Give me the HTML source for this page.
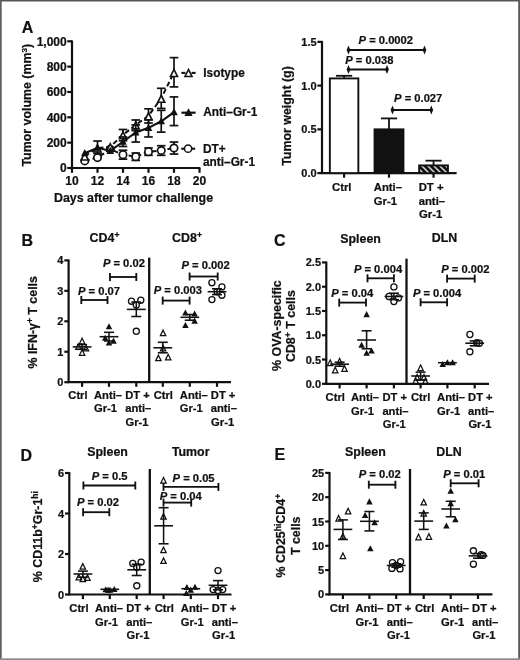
<!DOCTYPE html>
<html><head><meta charset="utf-8"><title>Figure</title>
<style>
html,body{margin:0;padding:0;background:#fff;}
body{width:520px;height:660px;overflow:hidden;}
svg{display:block;will-change:transform;transform:translateZ(0);}
svg text{font-family:"Liberation Sans",sans-serif;font-weight:bold;fill:#111;stroke:#111;stroke-width:0.22px;}
</style></head><body>
<svg width="520" height="660" viewBox="0 0 520 660">
<defs>
<pattern id="hatch" x="0.9" y="0" width="4.24" height="4.24" patternUnits="userSpaceOnUse" patternTransform="rotate(-45 420 166)">
<rect width="4.24" height="4.24" fill="#111"/><rect width="1.3" height="4.24" fill="#fff"/>
</pattern>
</defs>
<rect x="0" y="0" width="520" height="660" fill="#fff"/>
<g>

<rect x="0" y="0" width="520" height="1.5" fill="#555"/>
<rect x="0" y="0" width="1.7" height="660" fill="#5e5e5e"/>
<rect x="518.2" y="0" width="1.8" height="660" fill="#5a5a5a"/>
<rect x="0" y="658.3" width="520" height="1.7" fill="#8c8c8c"/>
<!-- Panel A: growth curves -->
<text x="21.80" y="32.60" font-size="16" text-anchor="start" >A</text>
<line x1="72.00" y1="40.40" x2="72.00" y2="168.90" stroke="#111" stroke-width="2.2" />
<line x1="71.10" y1="168.00" x2="200.40" y2="168.00" stroke="#111" stroke-width="2.2" />
<line x1="67.30" y1="168.00" x2="72.00" y2="168.00" stroke="#111" stroke-width="2.2" />
<text x="66.70" y="172.30" font-size="12" text-anchor="end" >0</text>
<line x1="67.30" y1="142.66" x2="72.00" y2="142.66" stroke="#111" stroke-width="2.2" />
<text x="66.70" y="146.96" font-size="12" text-anchor="end" >200</text>
<line x1="67.30" y1="117.32" x2="72.00" y2="117.32" stroke="#111" stroke-width="2.2" />
<text x="66.70" y="121.62" font-size="12" text-anchor="end" >400</text>
<line x1="67.30" y1="91.98" x2="72.00" y2="91.98" stroke="#111" stroke-width="2.2" />
<text x="66.70" y="96.28" font-size="12" text-anchor="end" >600</text>
<line x1="67.30" y1="66.64" x2="72.00" y2="66.64" stroke="#111" stroke-width="2.2" />
<text x="66.70" y="70.94" font-size="12" text-anchor="end" >800</text>
<line x1="67.30" y1="41.30" x2="72.00" y2="41.30" stroke="#111" stroke-width="2.2" />
<text x="66.70" y="45.60" font-size="12" text-anchor="end" >1,000</text>
<line x1="72.00" y1="168.00" x2="72.00" y2="172.80" stroke="#111" stroke-width="2.2" />
<text x="72.00" y="184.50" font-size="12" text-anchor="middle" >10</text>
<line x1="97.50" y1="168.00" x2="97.50" y2="172.80" stroke="#111" stroke-width="2.2" />
<text x="97.50" y="184.50" font-size="12" text-anchor="middle" >12</text>
<line x1="123.00" y1="168.00" x2="123.00" y2="172.80" stroke="#111" stroke-width="2.2" />
<text x="123.00" y="184.50" font-size="12" text-anchor="middle" >14</text>
<line x1="148.50" y1="168.00" x2="148.50" y2="172.80" stroke="#111" stroke-width="2.2" />
<text x="148.50" y="184.50" font-size="12" text-anchor="middle" >16</text>
<line x1="174.00" y1="168.00" x2="174.00" y2="172.80" stroke="#111" stroke-width="2.2" />
<text x="174.00" y="184.50" font-size="12" text-anchor="middle" >18</text>
<line x1="199.50" y1="168.00" x2="199.50" y2="172.80" stroke="#111" stroke-width="2.2" />
<text x="199.50" y="184.50" font-size="12" text-anchor="middle" >20</text>
<text transform="translate(26.80,105.20) rotate(-90)" font-size="12.4" text-anchor="middle" y="4.46">Tumor volume (mm<tspan font-size="8.1" dy="-4.3">3</tspan><tspan dy="4.3">&#8203;</tspan>)</text>
<text x="133.50" y="202.20" font-size="12.4" text-anchor="middle" >Days after tumor challenge</text>
<polyline points="84.75,160.90 97.50,157.61 110.25,149.25 123.00,154.70 135.75,156.72 148.50,151.66 161.25,150.52 174.00,147.98" fill="none" stroke="#111" stroke-width="2" stroke-dasharray="5 3"/>
<line x1="123.00" y1="159.13" x2="123.00" y2="150.26" stroke="#111" stroke-width="1.7" />
<line x1="118.70" y1="159.13" x2="127.30" y2="159.13" stroke="#111" stroke-width="1.7" />
<line x1="118.70" y1="150.26" x2="127.30" y2="150.26" stroke="#111" stroke-width="1.7" />
<line x1="135.75" y1="160.40" x2="135.75" y2="153.05" stroke="#111" stroke-width="1.7" />
<line x1="131.45" y1="160.40" x2="140.05" y2="160.40" stroke="#111" stroke-width="1.7" />
<line x1="131.45" y1="153.05" x2="140.05" y2="153.05" stroke="#111" stroke-width="1.7" />
<line x1="148.50" y1="155.33" x2="148.50" y2="147.98" stroke="#111" stroke-width="1.7" />
<line x1="144.20" y1="155.33" x2="152.80" y2="155.33" stroke="#111" stroke-width="1.7" />
<line x1="144.20" y1="147.98" x2="152.80" y2="147.98" stroke="#111" stroke-width="1.7" />
<line x1="161.25" y1="155.33" x2="161.25" y2="145.70" stroke="#111" stroke-width="1.7" />
<line x1="156.95" y1="155.33" x2="165.55" y2="155.33" stroke="#111" stroke-width="1.7" />
<line x1="156.95" y1="145.70" x2="165.55" y2="145.70" stroke="#111" stroke-width="1.7" />
<line x1="174.00" y1="154.06" x2="174.00" y2="142.03" stroke="#111" stroke-width="1.7" />
<line x1="169.70" y1="154.06" x2="178.30" y2="154.06" stroke="#111" stroke-width="1.7" />
<line x1="169.70" y1="142.03" x2="178.30" y2="142.03" stroke="#111" stroke-width="1.7" />
<circle cx="84.75" cy="160.90" r="3.7" fill="#fff" stroke="#111" stroke-width="1.7"/>
<circle cx="97.50" cy="157.61" r="3.7" fill="#fff" stroke="#111" stroke-width="1.7"/>
<circle cx="110.25" cy="149.25" r="3.7" fill="#fff" stroke="#111" stroke-width="1.7"/>
<circle cx="123.00" cy="154.70" r="3.7" fill="#fff" stroke="#111" stroke-width="1.7"/>
<circle cx="135.75" cy="156.72" r="3.7" fill="#fff" stroke="#111" stroke-width="1.7"/>
<circle cx="148.50" cy="151.66" r="3.7" fill="#fff" stroke="#111" stroke-width="1.7"/>
<circle cx="161.25" cy="150.52" r="3.7" fill="#fff" stroke="#111" stroke-width="1.7"/>
<circle cx="174.00" cy="147.98" r="3.7" fill="#fff" stroke="#111" stroke-width="1.7"/>
<polyline points="84.75,155.96 97.50,147.98 110.25,146.71 123.00,134.80 135.75,124.92 148.50,115.80 161.25,98.31 174.00,72.47" fill="none" stroke="#111" stroke-width="2" stroke-dasharray="5 3"/>
<line x1="123.00" y1="140.76" x2="123.00" y2="129.48" stroke="#111" stroke-width="1.7" />
<line x1="118.70" y1="140.76" x2="127.30" y2="140.76" stroke="#111" stroke-width="1.7" />
<line x1="118.70" y1="129.48" x2="127.30" y2="129.48" stroke="#111" stroke-width="1.7" />
<line x1="135.75" y1="130.62" x2="135.75" y2="119.98" stroke="#111" stroke-width="1.7" />
<line x1="131.45" y1="130.62" x2="140.05" y2="130.62" stroke="#111" stroke-width="1.7" />
<line x1="131.45" y1="119.98" x2="140.05" y2="119.98" stroke="#111" stroke-width="1.7" />
<line x1="148.50" y1="123.02" x2="148.50" y2="108.83" stroke="#111" stroke-width="1.7" />
<line x1="144.20" y1="123.02" x2="152.80" y2="123.02" stroke="#111" stroke-width="1.7" />
<line x1="144.20" y1="108.83" x2="152.80" y2="108.83" stroke="#111" stroke-width="1.7" />
<line x1="161.25" y1="108.45" x2="161.25" y2="88.31" stroke="#111" stroke-width="1.7" />
<line x1="156.95" y1="108.45" x2="165.55" y2="108.45" stroke="#111" stroke-width="1.7" />
<line x1="156.95" y1="88.31" x2="165.55" y2="88.31" stroke="#111" stroke-width="1.7" />
<line x1="174.00" y1="86.91" x2="174.00" y2="57.64" stroke="#111" stroke-width="1.7" />
<line x1="169.70" y1="86.91" x2="178.30" y2="86.91" stroke="#111" stroke-width="1.7" />
<line x1="169.70" y1="57.64" x2="178.30" y2="57.64" stroke="#111" stroke-width="1.7" />
<path d="M84.75 152.95L81.24 159.96L88.26 159.96Z" fill="#fff" stroke="#111" stroke-width="1.6" stroke-linejoin="miter"/>
<path d="M97.50 144.97L93.99 151.98L101.01 151.98Z" fill="#fff" stroke="#111" stroke-width="1.6" stroke-linejoin="miter"/>
<path d="M110.25 143.70L106.74 150.71L113.76 150.71Z" fill="#fff" stroke="#111" stroke-width="1.6" stroke-linejoin="miter"/>
<path d="M123.00 131.79L119.49 138.80L126.51 138.80Z" fill="#fff" stroke="#111" stroke-width="1.6" stroke-linejoin="miter"/>
<path d="M135.75 121.91L132.24 128.92L139.26 128.92Z" fill="#fff" stroke="#111" stroke-width="1.6" stroke-linejoin="miter"/>
<path d="M148.50 112.79L144.99 119.80L152.01 119.80Z" fill="#fff" stroke="#111" stroke-width="1.6" stroke-linejoin="miter"/>
<path d="M161.25 95.30L157.74 102.31L164.76 102.31Z" fill="#fff" stroke="#111" stroke-width="1.6" stroke-linejoin="miter"/>
<path d="M174.00 69.46L170.49 76.47L177.51 76.47Z" fill="#fff" stroke="#111" stroke-width="1.6" stroke-linejoin="miter"/>
<polyline points="84.75,153.18 97.50,147.73 110.25,150.90 123.00,141.77 135.75,132.52 148.50,127.84 161.25,121.25 174.00,112.13" fill="none" stroke="#111" stroke-width="2.1"/>
<line x1="97.50" y1="153.43" x2="97.50" y2="141.01" stroke="#111" stroke-width="1.7" />
<line x1="93.20" y1="153.43" x2="101.80" y2="153.43" stroke="#111" stroke-width="1.7" />
<line x1="93.20" y1="141.01" x2="101.80" y2="141.01" stroke="#111" stroke-width="1.7" />
<line x1="123.00" y1="146.46" x2="123.00" y2="136.96" stroke="#111" stroke-width="1.7" />
<line x1="118.70" y1="146.46" x2="127.30" y2="146.46" stroke="#111" stroke-width="1.7" />
<line x1="118.70" y1="136.96" x2="127.30" y2="136.96" stroke="#111" stroke-width="1.7" />
<line x1="135.75" y1="142.03" x2="135.75" y2="124.92" stroke="#111" stroke-width="1.7" />
<line x1="131.45" y1="142.03" x2="140.05" y2="142.03" stroke="#111" stroke-width="1.7" />
<line x1="131.45" y1="124.92" x2="140.05" y2="124.92" stroke="#111" stroke-width="1.7" />
<line x1="148.50" y1="136.96" x2="148.50" y2="119.85" stroke="#111" stroke-width="1.7" />
<line x1="144.20" y1="136.96" x2="152.80" y2="136.96" stroke="#111" stroke-width="1.7" />
<line x1="144.20" y1="119.85" x2="152.80" y2="119.85" stroke="#111" stroke-width="1.7" />
<line x1="161.25" y1="132.14" x2="161.25" y2="110.35" stroke="#111" stroke-width="1.7" />
<line x1="156.95" y1="132.14" x2="165.55" y2="132.14" stroke="#111" stroke-width="1.7" />
<line x1="156.95" y1="110.35" x2="165.55" y2="110.35" stroke="#111" stroke-width="1.7" />
<line x1="174.00" y1="125.56" x2="174.00" y2="96.92" stroke="#111" stroke-width="1.7" />
<line x1="169.70" y1="125.56" x2="178.30" y2="125.56" stroke="#111" stroke-width="1.7" />
<line x1="169.70" y1="96.92" x2="178.30" y2="96.92" stroke="#111" stroke-width="1.7" />
<path d="M84.75 149.08L80.95 156.28L88.55 156.28Z" fill="#111"/>
<path d="M97.50 143.63L93.70 150.83L101.30 150.83Z" fill="#111"/>
<path d="M110.25 146.80L106.45 154.00L114.05 154.00Z" fill="#111"/>
<path d="M123.00 137.67L119.20 144.87L126.80 144.87Z" fill="#111"/>
<path d="M135.75 128.42L131.95 135.62L139.55 135.62Z" fill="#111"/>
<path d="M148.50 123.74L144.70 130.94L152.30 130.94Z" fill="#111"/>
<path d="M161.25 117.15L157.45 124.35L165.05 124.35Z" fill="#111"/>
<path d="M174.00 108.03L170.20 115.23L177.80 115.23Z" fill="#111"/>
<line x1="181.40" y1="72.90" x2="185.40" y2="72.90" stroke="#111" stroke-width="2.1" />
<line x1="191.60" y1="72.90" x2="195.60" y2="72.90" stroke="#111" stroke-width="2.1" />
<path d="M188.50 69.49L184.99 76.50L192.01 76.50Z" fill="#fff" stroke="#111" stroke-width="1.6" stroke-linejoin="miter"/>
<text x="203.30" y="76.80" font-size="11.85" text-anchor="start" >Isotype</text>
<line x1="181.40" y1="112.70" x2="195.60" y2="112.70" stroke="#111" stroke-width="2.2" />
<path d="M188.50 108.30L184.40 115.90L192.60 115.90Z" fill="#111"/>
<text x="203.30" y="116.00" font-size="11.85" text-anchor="start" >Anti&#8211;Gr-1</text>
<line x1="181.20" y1="148.70" x2="185.00" y2="148.70" stroke="#111" stroke-width="2.1" />
<line x1="191.20" y1="148.70" x2="195.20" y2="148.70" stroke="#111" stroke-width="2.1" />
<circle cx="188.10" cy="148.70" r="3.6" fill="#fff" stroke="#111" stroke-width="1.5"/>
<text x="203.00" y="152.60" font-size="11.85" text-anchor="start" >DT+</text>
<text x="203.00" y="166.20" font-size="11.85" text-anchor="start" >anti&#8211;Gr-1</text>
<!-- Panel A: tumour weight bars -->
<line x1="322.00" y1="40.95" x2="322.00" y2="174.00" stroke="#111" stroke-width="2.2" />
<line x1="320.90" y1="173.10" x2="456.60" y2="173.10" stroke="#111" stroke-width="2.2" />
<line x1="317.40" y1="173.10" x2="322.00" y2="173.10" stroke="#111" stroke-width="2.2" />
<text x="316.60" y="177.10" font-size="11" text-anchor="end" >0.0</text>
<line x1="317.40" y1="129.35" x2="322.00" y2="129.35" stroke="#111" stroke-width="2.2" />
<text x="316.60" y="133.35" font-size="11" text-anchor="end" >0.5</text>
<line x1="317.40" y1="85.60" x2="322.00" y2="85.60" stroke="#111" stroke-width="2.2" />
<text x="316.60" y="89.60" font-size="11" text-anchor="end" >1.0</text>
<line x1="317.40" y1="41.85" x2="322.00" y2="41.85" stroke="#111" stroke-width="2.2" />
<text x="316.60" y="45.85" font-size="11" text-anchor="end" >1.5</text>
<text transform="translate(287.00,116.00) rotate(-90)" font-size="12.4" text-anchor="middle" y="4.46">Tumor weight (g)</text>
<line x1="344.10" y1="78.42" x2="344.10" y2="75.80" stroke="#111" stroke-width="1.8" />
<line x1="336.00" y1="75.80" x2="352.20" y2="75.80" stroke="#111" stroke-width="1.8" />
<rect x="329.85" y="78.42" width="28.50" height="94.68" fill="#fff" stroke="#111" stroke-width="1.9"/>
<line x1="344.10" y1="173.10" x2="344.10" y2="177.70" stroke="#111" stroke-width="2.2" />
<line x1="389.00" y1="129.35" x2="389.00" y2="118.41" stroke="#111" stroke-width="1.8" />
<line x1="380.90" y1="118.41" x2="397.10" y2="118.41" stroke="#111" stroke-width="1.8" />
<rect x="374.55" y="129.35" width="28.90" height="43.75" fill="#111" stroke="#111" stroke-width="1.9"/>
<line x1="389.00" y1="173.10" x2="389.00" y2="177.70" stroke="#111" stroke-width="2.2" />
<line x1="433.55" y1="165.40" x2="433.55" y2="160.67" stroke="#111" stroke-width="1.8" />
<line x1="425.45" y1="160.67" x2="441.65" y2="160.67" stroke="#111" stroke-width="1.8" />
<rect x="419.15" y="165.40" width="28.80" height="7.70" fill="url(#hatch)" stroke="#111" stroke-width="1.9"/>
<line x1="433.55" y1="173.10" x2="433.55" y2="177.70" stroke="#111" stroke-width="2.2" />
<text x="332.00" y="191.00" font-size="11.3" text-anchor="start" >Ctrl</text>
<text x="373.80" y="191.00" font-size="11.3" text-anchor="start" >Anti&#8211;</text>
<text x="373.80" y="204.60" font-size="11.3" text-anchor="start" >Gr-1</text>
<text x="418.70" y="191.00" font-size="11.3" text-anchor="start" >DT +</text>
<text x="418.70" y="204.60" font-size="11.3" text-anchor="start" >anti&#8211;</text>
<text x="419.00" y="218.20" font-size="11.3" text-anchor="start" >Gr-1</text>
<text x="358.60" y="43.80" font-size="11.2" text-anchor="start" ><tspan font-style="italic">P</tspan> = 0.0002</text>
<line x1="348.50" y1="50.00" x2="424.50" y2="50.00" stroke="#111" stroke-width="1.9" />
<path d="M348.50 45.60L350.35 50.00L348.50 54.40L346.65 50.00Z" fill="#111"/>
<path d="M424.50 45.60L426.35 50.00L424.50 54.40L422.65 50.00Z" fill="#111"/>
<text x="345.30" y="63.50" font-size="11.2" text-anchor="start" ><tspan font-style="italic">P</tspan> = 0.038</text>
<line x1="348.50" y1="69.50" x2="387.00" y2="69.50" stroke="#111" stroke-width="1.9" />
<path d="M348.50 65.10L350.35 69.50L348.50 73.90L346.65 69.50Z" fill="#111"/>
<path d="M387.00 65.10L388.85 69.50L387.00 73.90L385.15 69.50Z" fill="#111"/>
<text x="394.10" y="102.20" font-size="11.2" text-anchor="start" ><tspan font-style="italic">P</tspan> = 0.027</text>
<line x1="392.50" y1="110.00" x2="431.30" y2="110.00" stroke="#111" stroke-width="1.9" />
<path d="M392.50 105.60L394.35 110.00L392.50 114.40L390.65 110.00Z" fill="#111"/>
<path d="M431.30 105.60L433.15 110.00L431.30 114.40L429.45 110.00Z" fill="#111"/>
<!-- Panel B -->
<text transform="translate(32.70,322.30) rotate(-90)" font-size="12.4" text-anchor="middle" y="4.46">% IFN-&#947;<tspan font-size="8.6" dy="-4.3">+</tspan><tspan dy="4.3">&#8203;</tspan> T cells</text>
<text x="21.50" y="246.00" font-size="16" text-anchor="start" >B</text>
<line x1="68.60" y1="259.50" x2="68.60" y2="383.10" stroke="#111" stroke-width="2.2" />
<line x1="67.70" y1="382.20" x2="231.00" y2="382.20" stroke="#111" stroke-width="2.2" />
<line x1="149.20" y1="257.60" x2="149.20" y2="382.20" stroke="#111" stroke-width="2.3" />
<line x1="64.30" y1="382.20" x2="68.60" y2="382.20" stroke="#111" stroke-width="2.2" />
<text x="63.30" y="386.20" font-size="11" text-anchor="end" >0</text>
<line x1="64.30" y1="351.75" x2="68.60" y2="351.75" stroke="#111" stroke-width="2.2" />
<text x="63.30" y="355.75" font-size="11" text-anchor="end" >1</text>
<line x1="64.30" y1="321.30" x2="68.60" y2="321.30" stroke="#111" stroke-width="2.2" />
<text x="63.30" y="325.30" font-size="11" text-anchor="end" >2</text>
<line x1="64.30" y1="290.85" x2="68.60" y2="290.85" stroke="#111" stroke-width="2.2" />
<text x="63.30" y="294.85" font-size="11" text-anchor="end" >3</text>
<line x1="64.30" y1="260.40" x2="68.60" y2="260.40" stroke="#111" stroke-width="2.2" />
<text x="63.30" y="264.40" font-size="11" text-anchor="end" >4</text>
<text x="104.50" y="241.80" font-size="12.4" text-anchor="middle" >CD4<tspan font-size="8.6" dy="-4.3">+</tspan><tspan dy="4.3">&#8203;</tspan></text>
<text x="187.00" y="241.80" font-size="12.4" text-anchor="middle" >CD8<tspan font-size="8.6" dy="-4.3">+</tspan><tspan dy="4.3">&#8203;</tspan></text>
<line x1="82.10" y1="382.20" x2="82.10" y2="386.80" stroke="#111" stroke-width="2.2" />
<line x1="72.70" y1="346.90" x2="91.50" y2="346.90" stroke="#111" stroke-width="1.55" />
<line x1="82.10" y1="344.60" x2="82.10" y2="349.30" stroke="#111" stroke-width="1.55" />
<line x1="77.10" y1="344.60" x2="87.10" y2="344.60" stroke="#111" stroke-width="1.55" />
<line x1="77.10" y1="349.30" x2="87.10" y2="349.30" stroke="#111" stroke-width="1.55" />
<path d="M82.10 338.23L79.40 343.78L84.80 343.78Z" fill="none" stroke="#111" stroke-width="1.25" stroke-linejoin="miter"/>
<path d="M78.30 343.93L75.60 349.48L81.00 349.48Z" fill="none" stroke="#111" stroke-width="1.25" stroke-linejoin="miter"/>
<path d="M86.00 345.33L83.30 350.88L88.70 350.88Z" fill="none" stroke="#111" stroke-width="1.25" stroke-linejoin="miter"/>
<path d="M82.10 349.73L79.40 355.28L84.80 355.28Z" fill="none" stroke="#111" stroke-width="1.25" stroke-linejoin="miter"/>
<line x1="109.00" y1="382.20" x2="109.00" y2="386.80" stroke="#111" stroke-width="2.2" />
<line x1="99.60" y1="336.70" x2="118.40" y2="336.70" stroke="#111" stroke-width="1.55" />
<line x1="109.00" y1="332.30" x2="109.00" y2="341.00" stroke="#111" stroke-width="1.55" />
<line x1="104.00" y1="332.30" x2="114.00" y2="332.30" stroke="#111" stroke-width="1.55" />
<line x1="104.00" y1="341.00" x2="114.00" y2="341.00" stroke="#111" stroke-width="1.55" />
<path d="M109.00 323.15L105.75 329.25L112.25 329.25Z" fill="#111"/>
<path d="M105.20 334.65L101.95 340.75L108.45 340.75Z" fill="#111"/>
<path d="M113.50 337.55L110.25 343.65L116.75 343.65Z" fill="#111"/>
<path d="M109.00 339.45L105.75 345.55L112.25 345.55Z" fill="#111"/>
<line x1="136.30" y1="382.20" x2="136.30" y2="386.80" stroke="#111" stroke-width="2.2" />
<line x1="126.90" y1="309.40" x2="145.70" y2="309.40" stroke="#111" stroke-width="1.55" />
<line x1="136.30" y1="302.10" x2="136.30" y2="316.50" stroke="#111" stroke-width="1.55" />
<line x1="131.30" y1="302.10" x2="141.30" y2="302.10" stroke="#111" stroke-width="1.55" />
<line x1="131.30" y1="316.50" x2="141.30" y2="316.50" stroke="#111" stroke-width="1.55" />
<circle cx="131.50" cy="301.20" r="3.05" fill="none" stroke="#111" stroke-width="1.3"/>
<circle cx="140.80" cy="300.20" r="3.05" fill="none" stroke="#111" stroke-width="1.3"/>
<circle cx="136.30" cy="305.00" r="3.05" fill="none" stroke="#111" stroke-width="1.3"/>
<circle cx="136.30" cy="331.30" r="3.05" fill="none" stroke="#111" stroke-width="1.3"/>
<line x1="162.80" y1="382.20" x2="162.80" y2="386.80" stroke="#111" stroke-width="2.2" />
<line x1="153.40" y1="347.80" x2="172.20" y2="347.80" stroke="#111" stroke-width="1.55" />
<line x1="162.80" y1="342.30" x2="162.80" y2="352.80" stroke="#111" stroke-width="1.55" />
<line x1="157.80" y1="342.30" x2="167.80" y2="342.30" stroke="#111" stroke-width="1.55" />
<line x1="157.80" y1="352.80" x2="167.80" y2="352.80" stroke="#111" stroke-width="1.55" />
<path d="M163.10 330.13L160.40 335.68L165.80 335.68Z" fill="none" stroke="#111" stroke-width="1.25" stroke-linejoin="miter"/>
<path d="M163.10 345.43L160.40 350.98L165.80 350.98Z" fill="none" stroke="#111" stroke-width="1.25" stroke-linejoin="miter"/>
<path d="M158.40 355.13L155.70 360.68L161.10 360.68Z" fill="none" stroke="#111" stroke-width="1.25" stroke-linejoin="miter"/>
<path d="M168.20 354.33L165.50 359.88L170.90 359.88Z" fill="none" stroke="#111" stroke-width="1.25" stroke-linejoin="miter"/>
<line x1="189.80" y1="382.20" x2="189.80" y2="386.80" stroke="#111" stroke-width="2.2" />
<line x1="180.40" y1="317.30" x2="199.20" y2="317.30" stroke="#111" stroke-width="1.55" />
<line x1="189.80" y1="314.50" x2="189.80" y2="320.20" stroke="#111" stroke-width="1.55" />
<line x1="184.80" y1="314.50" x2="194.80" y2="314.50" stroke="#111" stroke-width="1.55" />
<line x1="184.80" y1="320.20" x2="194.80" y2="320.20" stroke="#111" stroke-width="1.55" />
<path d="M185.40 309.45L182.15 315.55L188.65 315.55Z" fill="#111"/>
<path d="M194.60 310.45L191.35 316.55L197.85 316.55Z" fill="#111"/>
<path d="M194.60 317.55L191.35 323.65L197.85 323.65Z" fill="#111"/>
<path d="M185.40 321.95L182.15 328.05L188.65 328.05Z" fill="#111"/>
<line x1="217.00" y1="382.20" x2="217.00" y2="386.80" stroke="#111" stroke-width="2.2" />
<line x1="207.60" y1="291.70" x2="226.40" y2="291.70" stroke="#111" stroke-width="1.55" />
<line x1="217.00" y1="288.80" x2="217.00" y2="294.60" stroke="#111" stroke-width="1.55" />
<line x1="212.00" y1="288.80" x2="222.00" y2="288.80" stroke="#111" stroke-width="1.55" />
<line x1="212.00" y1="294.60" x2="222.00" y2="294.60" stroke="#111" stroke-width="1.55" />
<circle cx="211.90" cy="282.70" r="3.05" fill="none" stroke="#111" stroke-width="1.3"/>
<circle cx="221.90" cy="286.90" r="3.05" fill="none" stroke="#111" stroke-width="1.3"/>
<circle cx="217.10" cy="291.70" r="3.05" fill="none" stroke="#111" stroke-width="1.3"/>
<circle cx="221.90" cy="295.20" r="3.05" fill="none" stroke="#111" stroke-width="1.3"/>
<circle cx="211.90" cy="299.60" r="3.05" fill="none" stroke="#111" stroke-width="1.3"/>
<text x="102.90" y="267.00" font-size="11.2" text-anchor="start" ><tspan font-style="italic">P</tspan> = 0.02</text>
<line x1="110.00" y1="277.00" x2="136.30" y2="277.00" stroke="#111" stroke-width="1.85" />
<line x1="110.00" y1="273.00" x2="110.00" y2="281.00" stroke="#111" stroke-width="1.85" />
<line x1="136.30" y1="273.00" x2="136.30" y2="281.00" stroke="#111" stroke-width="1.85" />
<text x="78.00" y="295.20" font-size="11.2" text-anchor="start" ><tspan font-style="italic">P</tspan> = 0.07</text>
<line x1="81.30" y1="300.00" x2="107.50" y2="300.00" stroke="#111" stroke-width="1.85" />
<line x1="81.30" y1="296.00" x2="81.30" y2="304.00" stroke="#111" stroke-width="1.85" />
<line x1="107.50" y1="296.00" x2="107.50" y2="304.00" stroke="#111" stroke-width="1.85" />
<text x="181.50" y="269.00" font-size="11.2" text-anchor="start" ><tspan font-style="italic">P</tspan> = 0.002</text>
<line x1="189.60" y1="276.50" x2="217.70" y2="276.50" stroke="#111" stroke-width="1.85" />
<line x1="189.60" y1="272.50" x2="189.60" y2="280.50" stroke="#111" stroke-width="1.85" />
<line x1="217.70" y1="272.50" x2="217.70" y2="280.50" stroke="#111" stroke-width="1.85" />
<text x="153.70" y="294.40" font-size="11.2" text-anchor="start" ><tspan font-style="italic">P</tspan> = 0.003</text>
<line x1="162.70" y1="300.60" x2="189.60" y2="300.60" stroke="#111" stroke-width="1.85" />
<line x1="162.70" y1="296.60" x2="162.70" y2="304.60" stroke="#111" stroke-width="1.85" />
<line x1="189.60" y1="296.60" x2="189.60" y2="304.60" stroke="#111" stroke-width="1.85" />
<text x="68.30" y="398.80" font-size="11.2" text-anchor="start" >Ctrl</text>
<text x="94.00" y="398.80" font-size="11.2" text-anchor="start" >Anti&#8211;</text>
<text x="94.00" y="412.45" font-size="11.2" text-anchor="start" >Gr-1</text>
<text x="125.20" y="398.80" font-size="11.2" text-anchor="start" >DT +</text>
<text x="125.20" y="412.45" font-size="11.2" text-anchor="start" >anti&#8211;</text>
<text x="125.50" y="426.10" font-size="11.2" text-anchor="start" >Gr-1</text>
<text x="153.70" y="398.80" font-size="11.2" text-anchor="start" >Ctrl</text>
<text x="179.80" y="398.80" font-size="11.2" text-anchor="start" >Anti&#8211;</text>
<text x="179.80" y="412.45" font-size="11.2" text-anchor="start" >Gr-1</text>
<text x="210.80" y="398.80" font-size="11.2" text-anchor="start" >DT +</text>
<text x="210.80" y="412.45" font-size="11.2" text-anchor="start" >anti&#8211;</text>
<text x="211.10" y="426.10" font-size="11.2" text-anchor="start" >Gr-1</text>
<!-- Panel C -->
<text transform="translate(276.40,325.60) rotate(-90)" font-size="12.4" text-anchor="middle" y="4.46">% OVA-specific</text>
<text transform="translate(290.50,326.10) rotate(-90)" font-size="12.4" text-anchor="middle" y="4.46">CD8<tspan font-size="8.6" dy="-4.3">+</tspan><tspan dy="4.3">&#8203;</tspan> T cells</text>
<text x="274.00" y="246.20" font-size="16" text-anchor="start" >C</text>
<line x1="326.30" y1="261.53" x2="326.30" y2="384.70" stroke="#111" stroke-width="2.2" />
<line x1="325.40" y1="383.80" x2="489.00" y2="383.80" stroke="#111" stroke-width="2.2" />
<line x1="406.50" y1="258.60" x2="406.50" y2="383.80" stroke="#111" stroke-width="2.3" />
<line x1="322.00" y1="383.80" x2="326.30" y2="383.80" stroke="#111" stroke-width="2.2" />
<text x="321.00" y="387.80" font-size="11" text-anchor="end" >0.0</text>
<line x1="322.00" y1="359.53" x2="326.30" y2="359.53" stroke="#111" stroke-width="2.2" />
<text x="321.00" y="363.53" font-size="11" text-anchor="end" >0.5</text>
<line x1="322.00" y1="335.25" x2="326.30" y2="335.25" stroke="#111" stroke-width="2.2" />
<text x="321.00" y="339.25" font-size="11" text-anchor="end" >1.0</text>
<line x1="322.00" y1="310.98" x2="326.30" y2="310.98" stroke="#111" stroke-width="2.2" />
<text x="321.00" y="314.98" font-size="11" text-anchor="end" >1.5</text>
<line x1="322.00" y1="286.70" x2="326.30" y2="286.70" stroke="#111" stroke-width="2.2" />
<text x="321.00" y="290.70" font-size="11" text-anchor="end" >2.0</text>
<line x1="322.00" y1="262.43" x2="326.30" y2="262.43" stroke="#111" stroke-width="2.2" />
<text x="321.00" y="266.43" font-size="11" text-anchor="end" >2.5</text>
<text x="360.60" y="243.00" font-size="12.4" text-anchor="middle" >Spleen</text>
<text x="444.50" y="241.80" font-size="12.4" text-anchor="middle" >DLN</text>
<line x1="339.60" y1="383.80" x2="339.60" y2="388.40" stroke="#111" stroke-width="2.2" />
<line x1="330.20" y1="364.20" x2="349.00" y2="364.20" stroke="#111" stroke-width="1.55" />
<line x1="339.60" y1="362.20" x2="339.60" y2="366.20" stroke="#111" stroke-width="1.55" />
<line x1="334.60" y1="362.20" x2="344.60" y2="362.20" stroke="#111" stroke-width="1.55" />
<line x1="334.60" y1="366.20" x2="344.60" y2="366.20" stroke="#111" stroke-width="1.55" />
<path d="M330.20 360.03L327.50 365.57L332.90 365.57Z" fill="none" stroke="#111" stroke-width="1.25" stroke-linejoin="miter"/>
<path d="M339.60 358.53L336.90 364.07L342.30 364.07Z" fill="none" stroke="#111" stroke-width="1.25" stroke-linejoin="miter"/>
<path d="M335.20 367.23L332.50 372.78L337.90 372.78Z" fill="none" stroke="#111" stroke-width="1.25" stroke-linejoin="miter"/>
<path d="M344.50 365.73L341.80 371.28L347.20 371.28Z" fill="none" stroke="#111" stroke-width="1.25" stroke-linejoin="miter"/>
<line x1="366.60" y1="383.80" x2="366.60" y2="388.40" stroke="#111" stroke-width="2.2" />
<line x1="357.20" y1="340.00" x2="376.00" y2="340.00" stroke="#111" stroke-width="1.55" />
<line x1="366.60" y1="330.80" x2="366.60" y2="348.80" stroke="#111" stroke-width="1.55" />
<line x1="361.60" y1="330.80" x2="371.60" y2="330.80" stroke="#111" stroke-width="1.55" />
<line x1="361.60" y1="348.80" x2="371.60" y2="348.80" stroke="#111" stroke-width="1.55" />
<path d="M366.60 311.05L363.35 317.15L369.85 317.15Z" fill="#111"/>
<path d="M361.60 341.75L358.35 347.85L364.85 347.85Z" fill="#111"/>
<path d="M371.50 347.45L368.25 353.55L374.75 353.55Z" fill="#111"/>
<path d="M366.60 349.65L363.35 355.75L369.85 355.75Z" fill="#111"/>
<line x1="393.90" y1="383.80" x2="393.90" y2="388.40" stroke="#111" stroke-width="2.2" />
<line x1="384.50" y1="296.50" x2="403.30" y2="296.50" stroke="#111" stroke-width="1.55" />
<line x1="393.90" y1="293.20" x2="393.90" y2="299.60" stroke="#111" stroke-width="1.55" />
<line x1="388.90" y1="293.20" x2="398.90" y2="293.20" stroke="#111" stroke-width="1.55" />
<line x1="388.90" y1="299.60" x2="398.90" y2="299.60" stroke="#111" stroke-width="1.55" />
<circle cx="393.90" cy="286.90" r="3.05" fill="none" stroke="#111" stroke-width="1.3"/>
<circle cx="389.00" cy="296.50" r="3.05" fill="none" stroke="#111" stroke-width="1.3"/>
<circle cx="398.50" cy="297.90" r="3.05" fill="none" stroke="#111" stroke-width="1.3"/>
<circle cx="393.90" cy="301.60" r="3.05" fill="none" stroke="#111" stroke-width="1.3"/>
<line x1="420.60" y1="383.80" x2="420.60" y2="388.40" stroke="#111" stroke-width="2.2" />
<line x1="411.20" y1="376.00" x2="430.00" y2="376.00" stroke="#111" stroke-width="1.55" />
<line x1="420.60" y1="372.10" x2="420.60" y2="380.00" stroke="#111" stroke-width="1.55" />
<line x1="415.60" y1="372.10" x2="425.60" y2="372.10" stroke="#111" stroke-width="1.55" />
<line x1="415.60" y1="380.00" x2="425.60" y2="380.00" stroke="#111" stroke-width="1.55" />
<path d="M420.60 365.03L417.90 370.57L423.30 370.57Z" fill="none" stroke="#111" stroke-width="1.25" stroke-linejoin="miter"/>
<path d="M417.10 374.53L414.40 380.07L419.80 380.07Z" fill="none" stroke="#111" stroke-width="1.25" stroke-linejoin="miter"/>
<path d="M424.00 374.53L421.30 380.07L426.70 380.07Z" fill="none" stroke="#111" stroke-width="1.25" stroke-linejoin="miter"/>
<path d="M415.70 378.03L413.00 383.57L418.40 383.57Z" fill="none" stroke="#111" stroke-width="1.25" stroke-linejoin="miter"/>
<path d="M425.40 378.33L422.70 383.88L428.10 383.88Z" fill="none" stroke="#111" stroke-width="1.25" stroke-linejoin="miter"/>
<line x1="447.40" y1="383.80" x2="447.40" y2="388.40" stroke="#111" stroke-width="2.2" />
<line x1="438.00" y1="362.70" x2="456.80" y2="362.70" stroke="#111" stroke-width="1.55" />
<path d="M442.70 360.95L439.45 367.05L445.95 367.05Z" fill="#111"/>
<path d="M447.40 359.15L444.15 365.25L450.65 365.25Z" fill="#111"/>
<path d="M452.60 359.15L449.35 365.25L455.85 365.25Z" fill="#111"/>
<line x1="474.70" y1="383.80" x2="474.70" y2="388.40" stroke="#111" stroke-width="2.2" />
<line x1="465.30" y1="343.20" x2="484.10" y2="343.20" stroke="#111" stroke-width="1.55" />
<line x1="474.70" y1="340.90" x2="474.70" y2="345.80" stroke="#111" stroke-width="1.55" />
<line x1="469.70" y1="340.90" x2="479.70" y2="340.90" stroke="#111" stroke-width="1.55" />
<line x1="469.70" y1="345.80" x2="479.70" y2="345.80" stroke="#111" stroke-width="1.55" />
<circle cx="469.90" cy="334.50" r="3.05" fill="none" stroke="#111" stroke-width="1.3"/>
<circle cx="469.90" cy="351.80" r="3.05" fill="none" stroke="#111" stroke-width="1.3"/>
<circle cx="476.80" cy="342.80" r="3.05" fill="none" stroke="#111" stroke-width="1.3"/>
<circle cx="479.40" cy="343.20" r="3.05" fill="none" stroke="#111" stroke-width="1.3"/>
<text x="353.90" y="273.30" font-size="11.2" text-anchor="start" ><tspan font-style="italic">P</tspan> = 0.004</text>
<line x1="367.50" y1="278.30" x2="393.90" y2="278.30" stroke="#111" stroke-width="1.85" />
<line x1="367.50" y1="274.30" x2="367.50" y2="282.30" stroke="#111" stroke-width="1.85" />
<line x1="393.90" y1="274.30" x2="393.90" y2="282.30" stroke="#111" stroke-width="1.85" />
<text x="331.30" y="296.80" font-size="11.2" text-anchor="start" ><tspan font-style="italic">P</tspan> = 0.04</text>
<line x1="339.20" y1="302.60" x2="366.00" y2="302.60" stroke="#111" stroke-width="1.85" />
<line x1="339.20" y1="298.60" x2="339.20" y2="306.60" stroke="#111" stroke-width="1.85" />
<line x1="366.00" y1="298.60" x2="366.00" y2="306.60" stroke="#111" stroke-width="1.85" />
<text x="441.20" y="273.30" font-size="11.2" text-anchor="start" ><tspan font-style="italic">P</tspan> = 0.002</text>
<line x1="447.10" y1="278.60" x2="474.70" y2="278.60" stroke="#111" stroke-width="1.85" />
<line x1="447.10" y1="274.60" x2="447.10" y2="282.60" stroke="#111" stroke-width="1.85" />
<line x1="474.70" y1="274.60" x2="474.70" y2="282.60" stroke="#111" stroke-width="1.85" />
<text x="412.90" y="297.30" font-size="11.2" text-anchor="start" ><tspan font-style="italic">P</tspan> = 0.004</text>
<line x1="420.60" y1="302.30" x2="447.10" y2="302.30" stroke="#111" stroke-width="1.85" />
<line x1="420.60" y1="298.30" x2="420.60" y2="306.30" stroke="#111" stroke-width="1.85" />
<line x1="447.10" y1="298.30" x2="447.10" y2="306.30" stroke="#111" stroke-width="1.85" />
<text x="325.60" y="401.00" font-size="11.2" text-anchor="start" >Ctrl</text>
<text x="351.00" y="401.00" font-size="11.2" text-anchor="start" >Anti&#8211;</text>
<text x="351.00" y="414.65" font-size="11.2" text-anchor="start" >Gr-1</text>
<text x="382.40" y="401.00" font-size="11.2" text-anchor="start" >DT +</text>
<text x="382.40" y="414.65" font-size="11.2" text-anchor="start" >anti&#8211;</text>
<text x="382.70" y="428.30" font-size="11.2" text-anchor="start" >Gr-1</text>
<text x="411.00" y="401.00" font-size="11.2" text-anchor="start" >Ctrl</text>
<text x="437.10" y="401.00" font-size="11.2" text-anchor="start" >Anti&#8211;</text>
<text x="437.10" y="414.65" font-size="11.2" text-anchor="start" >Gr-1</text>
<text x="468.10" y="401.00" font-size="11.2" text-anchor="start" >DT +</text>
<text x="468.10" y="414.65" font-size="11.2" text-anchor="start" >anti&#8211;</text>
<text x="468.40" y="428.30" font-size="11.2" text-anchor="start" >Gr-1</text>
<!-- Panel D -->
<text transform="translate(37.90,536.60) rotate(-90)" font-size="12.4" text-anchor="middle" y="4.46">% CD11b<tspan font-size="8.6" dy="-4.3">+</tspan><tspan dy="4.3">&#8203;</tspan>Gr-1<tspan font-size="8.6" dy="-4.3">hi</tspan><tspan dy="4.3">&#8203;</tspan></text>
<text x="20.50" y="461.20" font-size="16" text-anchor="start" >D</text>
<line x1="69.30" y1="472.10" x2="69.30" y2="595.40" stroke="#111" stroke-width="2.2" />
<line x1="68.40" y1="594.50" x2="231.50" y2="594.50" stroke="#111" stroke-width="2.2" />
<line x1="149.80" y1="469.00" x2="149.80" y2="594.50" stroke="#111" stroke-width="2.3" />
<line x1="65.00" y1="594.50" x2="69.30" y2="594.50" stroke="#111" stroke-width="2.2" />
<text x="64.00" y="598.50" font-size="11" text-anchor="end" >0</text>
<line x1="65.00" y1="554.00" x2="69.30" y2="554.00" stroke="#111" stroke-width="2.2" />
<text x="64.00" y="558.00" font-size="11" text-anchor="end" >2</text>
<line x1="65.00" y1="513.50" x2="69.30" y2="513.50" stroke="#111" stroke-width="2.2" />
<text x="64.00" y="517.50" font-size="11" text-anchor="end" >4</text>
<line x1="65.00" y1="473.00" x2="69.30" y2="473.00" stroke="#111" stroke-width="2.2" />
<text x="64.00" y="477.00" font-size="11" text-anchor="end" >6</text>
<text x="107.60" y="456.00" font-size="12.4" text-anchor="middle" >Spleen</text>
<text x="190.70" y="455.60" font-size="12.4" text-anchor="middle" >Tumor</text>
<line x1="82.90" y1="594.50" x2="82.90" y2="599.10" stroke="#111" stroke-width="2.2" />
<line x1="73.50" y1="574.00" x2="92.30" y2="574.00" stroke="#111" stroke-width="1.55" />
<line x1="82.90" y1="571.10" x2="82.90" y2="577.20" stroke="#111" stroke-width="1.55" />
<line x1="77.90" y1="571.10" x2="87.90" y2="571.10" stroke="#111" stroke-width="1.55" />
<line x1="77.90" y1="577.20" x2="87.90" y2="577.20" stroke="#111" stroke-width="1.55" />
<path d="M82.80 563.63L80.10 569.17L85.50 569.17Z" fill="none" stroke="#111" stroke-width="1.25" stroke-linejoin="miter"/>
<path d="M78.80 574.33L76.10 579.88L81.50 579.88Z" fill="none" stroke="#111" stroke-width="1.25" stroke-linejoin="miter"/>
<path d="M82.80 576.03L80.10 581.57L85.50 581.57Z" fill="none" stroke="#111" stroke-width="1.25" stroke-linejoin="miter"/>
<path d="M87.50 574.83L84.80 580.38L90.20 580.38Z" fill="none" stroke="#111" stroke-width="1.25" stroke-linejoin="miter"/>
<line x1="109.80" y1="594.50" x2="109.80" y2="599.10" stroke="#111" stroke-width="2.2" />
<line x1="100.40" y1="589.30" x2="119.20" y2="589.30" stroke="#111" stroke-width="1.55" />
<path d="M105.70 586.25L102.45 592.35L108.95 592.35Z" fill="#111"/>
<path d="M110.00 586.75L106.75 592.85L113.25 592.85Z" fill="#111"/>
<path d="M114.30 585.95L111.05 592.05L117.55 592.05Z" fill="#111"/>
<path d="M108.00 586.55L104.75 592.65L111.25 592.65Z" fill="#111"/>
<line x1="136.70" y1="594.50" x2="136.70" y2="599.10" stroke="#111" stroke-width="2.2" />
<line x1="127.30" y1="569.80" x2="146.10" y2="569.80" stroke="#111" stroke-width="1.55" />
<line x1="136.70" y1="564.20" x2="136.70" y2="575.50" stroke="#111" stroke-width="1.55" />
<line x1="131.70" y1="564.20" x2="141.70" y2="564.20" stroke="#111" stroke-width="1.55" />
<line x1="131.70" y1="575.50" x2="141.70" y2="575.50" stroke="#111" stroke-width="1.55" />
<circle cx="132.80" cy="563.40" r="3.05" fill="none" stroke="#111" stroke-width="1.3"/>
<circle cx="141.10" cy="562.10" r="3.05" fill="none" stroke="#111" stroke-width="1.3"/>
<circle cx="136.80" cy="567.30" r="3.05" fill="none" stroke="#111" stroke-width="1.3"/>
<circle cx="136.80" cy="585.80" r="3.05" fill="none" stroke="#111" stroke-width="1.3"/>
<line x1="163.60" y1="594.50" x2="163.60" y2="599.10" stroke="#111" stroke-width="2.2" />
<line x1="154.20" y1="525.80" x2="173.00" y2="525.80" stroke="#111" stroke-width="1.55" />
<line x1="163.60" y1="507.70" x2="163.60" y2="543.80" stroke="#111" stroke-width="1.55" />
<line x1="158.60" y1="507.70" x2="168.60" y2="507.70" stroke="#111" stroke-width="1.55" />
<line x1="158.60" y1="543.80" x2="168.60" y2="543.80" stroke="#111" stroke-width="1.55" />
<path d="M163.50 477.53L160.80 483.07L166.20 483.07Z" fill="none" stroke="#111" stroke-width="1.25" stroke-linejoin="miter"/>
<path d="M163.50 513.63L160.80 519.17L166.20 519.17Z" fill="none" stroke="#111" stroke-width="1.25" stroke-linejoin="miter"/>
<path d="M163.50 547.13L160.80 552.67L166.20 552.67Z" fill="none" stroke="#111" stroke-width="1.25" stroke-linejoin="miter"/>
<path d="M163.50 557.93L160.80 563.47L166.20 563.47Z" fill="none" stroke="#111" stroke-width="1.25" stroke-linejoin="miter"/>
<line x1="190.80" y1="594.50" x2="190.80" y2="599.10" stroke="#111" stroke-width="2.2" />
<line x1="181.40" y1="588.70" x2="200.20" y2="588.70" stroke="#111" stroke-width="1.55" />
<path d="M186.90 583.95L183.65 590.05L190.15 590.05Z" fill="#111"/>
<path d="M195.00 583.65L191.75 589.75L198.25 589.75Z" fill="#111"/>
<path d="M190.70 586.55L187.45 592.65L193.95 592.65Z" fill="#111"/>
<path d="M186.30 589.95L183.05 596.05L189.55 596.05Z" fill="#111"/>
<line x1="218.00" y1="594.50" x2="218.00" y2="599.10" stroke="#111" stroke-width="2.2" />
<line x1="208.60" y1="585.30" x2="227.40" y2="585.30" stroke="#111" stroke-width="1.55" />
<line x1="218.00" y1="580.60" x2="218.00" y2="589.80" stroke="#111" stroke-width="1.55" />
<line x1="213.00" y1="580.60" x2="223.00" y2="580.60" stroke="#111" stroke-width="1.55" />
<line x1="213.00" y1="589.80" x2="223.00" y2="589.80" stroke="#111" stroke-width="1.55" />
<circle cx="218.00" cy="570.60" r="3.05" fill="none" stroke="#111" stroke-width="1.3"/>
<circle cx="213.10" cy="589.60" r="3.05" fill="none" stroke="#111" stroke-width="1.3"/>
<circle cx="218.00" cy="590.50" r="3.05" fill="none" stroke="#111" stroke-width="1.3"/>
<circle cx="222.70" cy="589.60" r="3.05" fill="none" stroke="#111" stroke-width="1.3"/>
<text x="91.70" y="479.80" font-size="11.2" text-anchor="start" ><tspan font-style="italic">P</tspan> = 0.5</text>
<line x1="83.40" y1="485.50" x2="135.30" y2="485.50" stroke="#111" stroke-width="1.85" />
<line x1="83.40" y1="481.50" x2="83.40" y2="489.50" stroke="#111" stroke-width="1.85" />
<line x1="135.30" y1="481.50" x2="135.30" y2="489.50" stroke="#111" stroke-width="1.85" />
<text x="77.00" y="505.90" font-size="11.2" text-anchor="start" ><tspan font-style="italic">P</tspan> = 0.02</text>
<line x1="83.10" y1="512.20" x2="109.30" y2="512.20" stroke="#111" stroke-width="1.85" />
<line x1="83.10" y1="508.20" x2="83.10" y2="516.20" stroke="#111" stroke-width="1.85" />
<line x1="109.30" y1="508.20" x2="109.30" y2="516.20" stroke="#111" stroke-width="1.85" />
<text x="172.60" y="481.90" font-size="11.2" text-anchor="start" ><tspan font-style="italic">P</tspan> = 0.05</text>
<line x1="163.50" y1="486.90" x2="218.40" y2="486.90" stroke="#111" stroke-width="1.85" />
<line x1="163.50" y1="482.90" x2="163.50" y2="490.90" stroke="#111" stroke-width="1.85" />
<line x1="218.40" y1="482.90" x2="218.40" y2="490.90" stroke="#111" stroke-width="1.85" />
<text x="159.70" y="500.30" font-size="11.2" text-anchor="start" ><tspan font-style="italic">P</tspan> = 0.04</text>
<line x1="163.50" y1="502.60" x2="191.20" y2="502.60" stroke="#111" stroke-width="1.85" />
<line x1="163.50" y1="498.60" x2="163.50" y2="506.60" stroke="#111" stroke-width="1.85" />
<line x1="191.20" y1="498.60" x2="191.20" y2="506.60" stroke="#111" stroke-width="1.85" />
<text x="69.30" y="612.10" font-size="11.2" text-anchor="start" >Ctrl</text>
<text x="95.00" y="612.10" font-size="11.2" text-anchor="start" >Anti&#8211;</text>
<text x="95.00" y="625.75" font-size="11.2" text-anchor="start" >Gr-1</text>
<text x="126.20" y="612.10" font-size="11.2" text-anchor="start" >DT +</text>
<text x="126.20" y="625.75" font-size="11.2" text-anchor="start" >anti&#8211;</text>
<text x="126.50" y="639.40" font-size="11.2" text-anchor="start" >Gr-1</text>
<text x="154.70" y="612.10" font-size="11.2" text-anchor="start" >Ctrl</text>
<text x="180.80" y="612.10" font-size="11.2" text-anchor="start" >Anti&#8211;</text>
<text x="180.80" y="625.75" font-size="11.2" text-anchor="start" >Gr-1</text>
<text x="211.80" y="612.10" font-size="11.2" text-anchor="start" >DT +</text>
<text x="211.80" y="625.75" font-size="11.2" text-anchor="start" >anti&#8211;</text>
<text x="212.10" y="639.40" font-size="11.2" text-anchor="start" >Gr-1</text>
<!-- Panel E -->
<text transform="translate(280.90,535.60) rotate(-90)" font-size="12.4" text-anchor="middle" y="4.46">% CD25<tspan font-size="8.6" dy="-4.3">hi</tspan><tspan dy="4.3">&#8203;</tspan>CD4<tspan font-size="8.6" dy="-4.3">+</tspan><tspan dy="4.3">&#8203;</tspan></text>
<text transform="translate(295.20,535.80) rotate(-90)" font-size="12.4" text-anchor="middle" y="4.46">T cells</text>
<text x="274.60" y="460.00" font-size="16" text-anchor="start" >E</text>
<line x1="329.50" y1="472.00" x2="329.50" y2="595.30" stroke="#111" stroke-width="2.2" />
<line x1="328.60" y1="594.40" x2="492.40" y2="594.40" stroke="#111" stroke-width="2.2" />
<line x1="410.00" y1="469.00" x2="410.00" y2="594.40" stroke="#111" stroke-width="2.3" />
<line x1="325.20" y1="594.40" x2="329.50" y2="594.40" stroke="#111" stroke-width="2.2" />
<text x="324.20" y="598.40" font-size="11" text-anchor="end" >0</text>
<line x1="325.20" y1="570.10" x2="329.50" y2="570.10" stroke="#111" stroke-width="2.2" />
<text x="324.20" y="574.10" font-size="11" text-anchor="end" >5</text>
<line x1="325.20" y1="545.80" x2="329.50" y2="545.80" stroke="#111" stroke-width="2.2" />
<text x="324.20" y="549.80" font-size="11" text-anchor="end" >10</text>
<line x1="325.20" y1="521.50" x2="329.50" y2="521.50" stroke="#111" stroke-width="2.2" />
<text x="324.20" y="525.50" font-size="11" text-anchor="end" >15</text>
<line x1="325.20" y1="497.20" x2="329.50" y2="497.20" stroke="#111" stroke-width="2.2" />
<text x="324.20" y="501.20" font-size="11" text-anchor="end" >20</text>
<line x1="325.20" y1="472.90" x2="329.50" y2="472.90" stroke="#111" stroke-width="2.2" />
<text x="324.20" y="476.90" font-size="11" text-anchor="end" >25</text>
<text x="365.40" y="456.00" font-size="12.4" text-anchor="middle" >Spleen</text>
<text x="449.00" y="455.60" font-size="12.4" text-anchor="middle" >DLN</text>
<line x1="342.90" y1="594.40" x2="342.90" y2="599.00" stroke="#111" stroke-width="2.2" />
<line x1="333.50" y1="529.40" x2="352.30" y2="529.40" stroke="#111" stroke-width="1.55" />
<line x1="342.90" y1="519.90" x2="342.90" y2="539.50" stroke="#111" stroke-width="1.55" />
<line x1="337.90" y1="519.90" x2="347.90" y2="519.90" stroke="#111" stroke-width="1.55" />
<line x1="337.90" y1="539.50" x2="347.90" y2="539.50" stroke="#111" stroke-width="1.55" />
<path d="M348.10 508.33L345.40 513.88L350.80 513.88Z" fill="none" stroke="#111" stroke-width="1.25" stroke-linejoin="miter"/>
<path d="M338.60 515.53L335.90 521.07L341.30 521.07Z" fill="none" stroke="#111" stroke-width="1.25" stroke-linejoin="miter"/>
<path d="M342.90 533.43L340.20 538.97L345.60 538.97Z" fill="none" stroke="#111" stroke-width="1.25" stroke-linejoin="miter"/>
<path d="M342.90 553.03L340.20 558.57L345.60 558.57Z" fill="none" stroke="#111" stroke-width="1.25" stroke-linejoin="miter"/>
<line x1="369.40" y1="594.40" x2="369.40" y2="599.00" stroke="#111" stroke-width="2.2" />
<line x1="360.00" y1="521.30" x2="378.80" y2="521.30" stroke="#111" stroke-width="1.55" />
<line x1="369.40" y1="511.50" x2="369.40" y2="530.90" stroke="#111" stroke-width="1.55" />
<line x1="364.40" y1="511.50" x2="374.40" y2="511.50" stroke="#111" stroke-width="1.55" />
<line x1="364.40" y1="530.90" x2="374.40" y2="530.90" stroke="#111" stroke-width="1.55" />
<path d="M369.40 498.35L366.15 504.45L372.65 504.45Z" fill="#111"/>
<path d="M365.10 511.95L361.85 518.05L368.35 518.05Z" fill="#111"/>
<path d="M374.60 519.15L371.35 525.25L377.85 525.25Z" fill="#111"/>
<path d="M370.30 545.15L367.05 551.25L373.55 551.25Z" fill="#111"/>
<line x1="396.20" y1="594.40" x2="396.20" y2="599.00" stroke="#111" stroke-width="2.2" />
<line x1="386.80" y1="565.50" x2="405.60" y2="565.50" stroke="#111" stroke-width="1.55" />
<line x1="396.20" y1="563.80" x2="396.20" y2="567.20" stroke="#111" stroke-width="1.55" />
<line x1="391.20" y1="563.80" x2="401.20" y2="563.80" stroke="#111" stroke-width="1.55" />
<line x1="391.20" y1="567.20" x2="401.20" y2="567.20" stroke="#111" stroke-width="1.55" />
<circle cx="392.50" cy="562.60" r="3.05" fill="none" stroke="#111" stroke-width="1.3"/>
<circle cx="400.60" cy="561.70" r="3.05" fill="none" stroke="#111" stroke-width="1.3"/>
<circle cx="391.90" cy="568.40" r="3.05" fill="none" stroke="#111" stroke-width="1.3"/>
<circle cx="400.00" cy="568.90" r="3.05" fill="none" stroke="#111" stroke-width="1.3"/>
<circle cx="396.20" cy="565.50" r="3.05" fill="none" stroke="#111" stroke-width="1.3"/>
<line x1="423.70" y1="594.40" x2="423.70" y2="599.00" stroke="#111" stroke-width="2.2" />
<line x1="414.30" y1="521.10" x2="433.10" y2="521.10" stroke="#111" stroke-width="1.55" />
<line x1="423.70" y1="512.90" x2="423.70" y2="529.40" stroke="#111" stroke-width="1.55" />
<line x1="418.70" y1="512.90" x2="428.70" y2="512.90" stroke="#111" stroke-width="1.55" />
<line x1="418.70" y1="529.40" x2="428.70" y2="529.40" stroke="#111" stroke-width="1.55" />
<path d="M423.70 499.43L421.00 504.98L426.40 504.98Z" fill="none" stroke="#111" stroke-width="1.25" stroke-linejoin="miter"/>
<path d="M423.70 510.53L421.00 516.07L426.40 516.07Z" fill="none" stroke="#111" stroke-width="1.25" stroke-linejoin="miter"/>
<path d="M418.50 534.23L415.80 539.77L421.20 539.77Z" fill="none" stroke="#111" stroke-width="1.25" stroke-linejoin="miter"/>
<path d="M428.90 533.73L426.20 539.27L431.60 539.27Z" fill="none" stroke="#111" stroke-width="1.25" stroke-linejoin="miter"/>
<line x1="450.70" y1="594.40" x2="450.70" y2="599.00" stroke="#111" stroke-width="2.2" />
<line x1="441.30" y1="509.00" x2="460.10" y2="509.00" stroke="#111" stroke-width="1.55" />
<line x1="450.70" y1="501.30" x2="450.70" y2="516.80" stroke="#111" stroke-width="1.55" />
<line x1="445.70" y1="501.30" x2="455.70" y2="501.30" stroke="#111" stroke-width="1.55" />
<line x1="445.70" y1="516.80" x2="455.70" y2="516.80" stroke="#111" stroke-width="1.55" />
<path d="M450.70 487.65L447.45 493.75L453.95 493.75Z" fill="#111"/>
<path d="M450.70 500.05L447.45 506.15L453.95 506.15Z" fill="#111"/>
<path d="M455.40 516.25L452.15 522.35L458.65 522.35Z" fill="#111"/>
<path d="M446.40 522.45L443.15 528.55L449.65 528.55Z" fill="#111"/>
<line x1="478.00" y1="594.40" x2="478.00" y2="599.00" stroke="#111" stroke-width="2.2" />
<line x1="468.60" y1="555.90" x2="487.40" y2="555.90" stroke="#111" stroke-width="1.55" />
<line x1="478.00" y1="553.60" x2="478.00" y2="558.20" stroke="#111" stroke-width="1.55" />
<line x1="473.00" y1="553.60" x2="483.00" y2="553.60" stroke="#111" stroke-width="1.55" />
<line x1="473.00" y1="558.20" x2="483.00" y2="558.20" stroke="#111" stroke-width="1.55" />
<circle cx="473.40" cy="550.80" r="3.05" fill="none" stroke="#111" stroke-width="1.3"/>
<circle cx="481.10" cy="554.60" r="3.05" fill="none" stroke="#111" stroke-width="1.3"/>
<circle cx="483.00" cy="555.40" r="3.05" fill="none" stroke="#111" stroke-width="1.3"/>
<circle cx="473.40" cy="564.20" r="3.05" fill="none" stroke="#111" stroke-width="1.3"/>
<text x="358.70" y="478.00" font-size="11.2" text-anchor="start" ><tspan font-style="italic">P</tspan> = 0.02</text>
<line x1="368.80" y1="484.70" x2="395.40" y2="484.70" stroke="#111" stroke-width="1.85" />
<line x1="368.80" y1="480.70" x2="368.80" y2="488.70" stroke="#111" stroke-width="1.85" />
<line x1="395.40" y1="480.70" x2="395.40" y2="488.70" stroke="#111" stroke-width="1.85" />
<text x="443.30" y="477.50" font-size="11.2" text-anchor="start" ><tspan font-style="italic">P</tspan> = 0.01</text>
<line x1="450.70" y1="483.30" x2="478.60" y2="483.30" stroke="#111" stroke-width="1.85" />
<line x1="450.70" y1="479.30" x2="450.70" y2="487.30" stroke="#111" stroke-width="1.85" />
<line x1="478.60" y1="479.30" x2="478.60" y2="487.30" stroke="#111" stroke-width="1.85" />
<text x="329.80" y="611.90" font-size="11.2" text-anchor="start" >Ctrl</text>
<text x="355.50" y="611.90" font-size="11.2" text-anchor="start" >Anti&#8211;</text>
<text x="355.50" y="625.55" font-size="11.2" text-anchor="start" >Gr-1</text>
<text x="386.70" y="611.90" font-size="11.2" text-anchor="start" >DT +</text>
<text x="386.70" y="625.55" font-size="11.2" text-anchor="start" >anti&#8211;</text>
<text x="387.00" y="639.20" font-size="11.2" text-anchor="start" >Gr-1</text>
<text x="415.00" y="611.90" font-size="11.2" text-anchor="start" >Ctrl</text>
<text x="441.10" y="611.90" font-size="11.2" text-anchor="start" >Anti&#8211;</text>
<text x="441.10" y="625.55" font-size="11.2" text-anchor="start" >Gr-1</text>
<text x="472.10" y="611.90" font-size="11.2" text-anchor="start" >DT +</text>
<text x="472.10" y="625.55" font-size="11.2" text-anchor="start" >anti&#8211;</text>
<text x="472.40" y="639.20" font-size="11.2" text-anchor="start" >Gr-1</text>
</g></svg></body></html>
